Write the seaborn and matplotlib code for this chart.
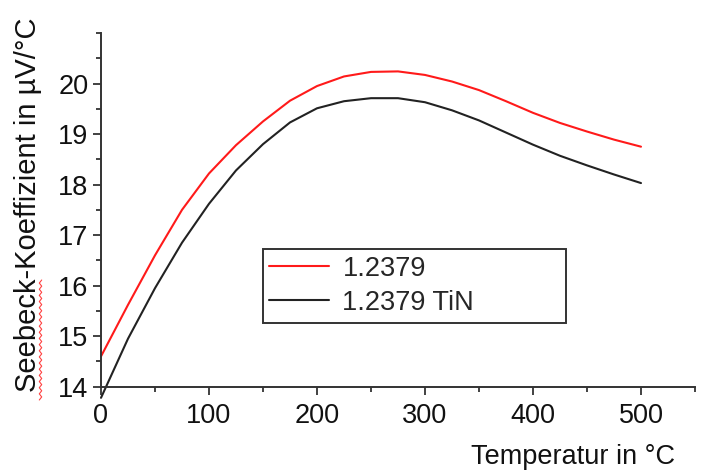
import numpy as np
import pandas as pd
import matplotlib
matplotlib.use("Agg")
import matplotlib.pyplot as plt
from matplotlib.ticker import FixedLocator
from matplotlib.lines import Line2D
import seaborn as sns

temperature = [0, 25, 50, 75, 100, 125, 150, 175, 200, 225, 250, 275, 300,
               325, 350, 375, 400, 425, 450, 475, 500]
seebeck_12379 = [14.60, 15.62, 16.60, 17.50, 18.22, 18.78, 19.25, 19.66, 19.95,
                 20.14, 20.23, 20.24, 20.17, 20.04, 19.87, 19.65, 19.42, 19.22,
                 19.05, 18.89, 18.75]
seebeck_12379_tin = [13.78, 14.95, 15.95, 16.85, 17.62, 18.28, 18.80, 19.23, 19.51,
                     19.65, 19.71, 19.71, 19.63, 19.47, 19.27, 19.03, 18.79, 18.57,
                     18.38, 18.20, 18.03]
series_names = ["1.2379", "1.2379 TiN"]
series_colors = ["#ff1a1a", "#222222"]
x_ticks = [0, 100, 200, 300, 400, 500]
x_minor = [50, 150, 250, 350, 450, 550]
y_ticks = [14, 15, 16, 17, 18, 19, 20]
y_minor = [14.5, 15.5, 16.5, 17.5, 18.5, 19.5, 20.5, 21]

df = pd.concat([
    pd.DataFrame({"T": temperature, "S": seebeck_12379, "Probe": series_names[0]}),
    pd.DataFrame({"T": temperature, "S": seebeck_12379_tin, "Probe": series_names[1]}),
])

sns.set_theme(style="ticks")
plt.rcParams["font.family"] = ["Liberation Sans", "DejaVu Sans"]

fig = plt.figure(figsize=(7.06, 4.74), dpi=100)
ax = fig.add_axes([101 / 706, 1 - 386.7 / 474, 594 / 706, 353.7 / 474])

sns.lineplot(data=df, x="T", y="S", hue="Probe", palette=series_colors,
             linewidth=1.5, ax=ax, legend=True)
for ln in ax.lines:
    ln.set_clip_on(False)
    ln.set_solid_joinstyle("round")

ax.set_xlim(0, 550)
ax.set_ylim(14, 21)
ax.xaxis.set_major_locator(FixedLocator(x_ticks))
ax.xaxis.set_minor_locator(FixedLocator(x_minor))
ax.yaxis.set_major_locator(FixedLocator(y_ticks))
ax.yaxis.set_minor_locator(FixedLocator(y_minor))

for side in ["top", "right"]:
    ax.spines[side].set_visible(False)
for side in ["left", "bottom"]:
    ax.spines[side].set_color("#333333")
    ax.spines[side].set_linewidth(1.4)

ax.tick_params(axis="both", which="both", bottom=True, left=True, top=False, right=False)
ax.tick_params(axis="both", which="major", direction="out", length=6, width=1.3,
               color="#333333", labelsize=19.5, labelcolor="#111111")
ax.tick_params(axis="both", which="minor", direction="out", length=3.5, width=1.3,
               color="#333333")
ax.tick_params(axis="y", which="major", pad=3)
ax.tick_params(axis="x", which="major", pad=6)

ax.set_xlabel("Temperatur in °C", fontsize=19.5, color="#111111", ha="right", va="center")
ax.xaxis.set_label_coords(0.966, -0.2)
ax.set_ylabel("Seebeck-Koeffizient in µV/°C", fontsize=21, color="#111111", va="center")
ax.yaxis.set_label_coords(-0.123, 0.514)

leg = ax.legend(loc="lower left", bbox_to_anchor=(0.272, 0.181, 0.51, 0.21),
                mode="expand", borderaxespad=0, fontsize=19.5, frameon=True,
                fancybox=False, framealpha=1, edgecolor="#333333",
                handlelength=2.2, handletextpad=0.5, borderpad=0.25,
                labelspacing=0.3, title=None)
leg.get_frame().set_linewidth(1.4)
for h in leg.get_lines():
    h.set_linewidth(1.5)

# red spell-check squiggle under "Seebeck"
yy = np.linspace(1 - 400 / 474, 1 - 280 / 474, 40)
xx = 40.5 / 706 + np.where(np.arange(40) % 2 == 0, -1.2, 1.2) / 706
fig.add_artist(Line2D(xx, yy, color="#ff4040", linewidth=0.8, transform=fig.transFigure))

fig.savefig("out.png", dpi=100)
